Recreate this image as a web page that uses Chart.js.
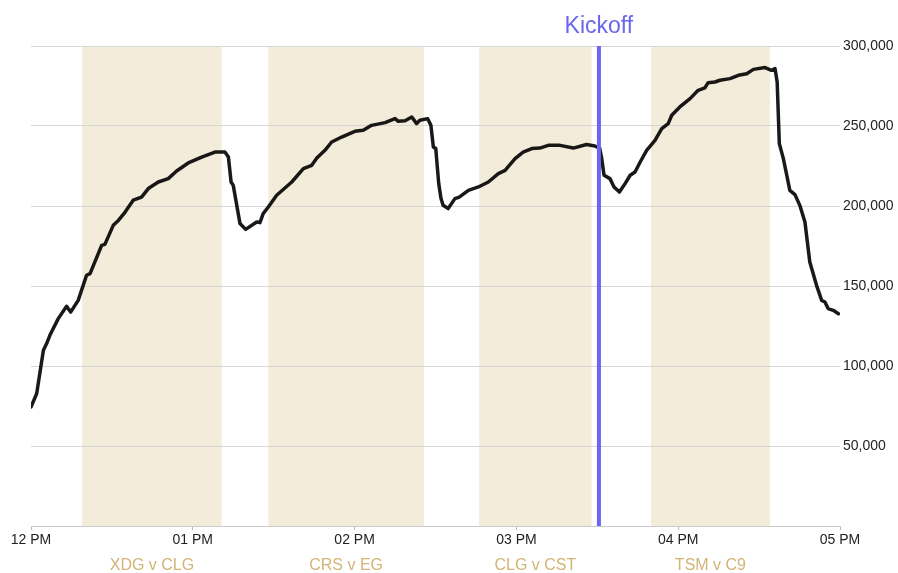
<!DOCTYPE html>
<html>
<head>
<meta charset="utf-8">
<script src="https://cdn.jsdelivr.net/npm/chart.js@4/dist/chart.umd.min.js"></script>
<style>
  html, body { margin: 0; padding: 0; background: #fff; }
  canvas { display: block; }
</style>
</head>
<body>
<canvas id="viewersChart" width="898" height="573"></canvas>
<script>
// --- Data ---
// minutes after 12 PM
const minutes = [0, 2.1, 4.6, 5.8, 7.0, 10.1, 13.2, 14.7, 17.5, 20.6, 21.9, 26.2, 27.4, 30.5, 32.4, 34.9, 37.9, 41.0, 43.5, 47.2,
  50.9, 54.0, 58.3, 63.3, 68.2, 71.9, 73.2, 74.2, 75.0, 77.5, 79.6, 83.7, 84.9, 86.1, 88.0, 91.1, 96.7, 101.0, 104.1, 106.0,
  109.0, 111.5, 115.2, 120.1, 123.2, 126.3, 131.3, 135.0, 136.2, 138.7, 141.2, 143.0, 144.2, 147.1, 148.3, 149.2, 150.1, 151.2,
  152.0, 152.8, 154.7, 157.2, 158.8, 162.2, 165.9, 169.6, 173.3, 175.8, 179.5, 182.5, 185.7, 188.7, 191.8, 196.2, 201.1, 206.0,
  209.1, 210.9, 211.6, 212.5, 214.7, 216.2, 218.2, 220.3, 222.2, 224.0, 225.9, 228.3, 231.4, 233.9, 236.3, 237.6, 240.6, 244.4,
  247.4, 249.9, 251.1, 253.6, 255.5, 259.2, 262.3, 265.4, 267.9, 272.2, 274.6, 275.9, 276.7, 277.5, 279.0, 281.4, 283.3, 285.1,
  287.0, 288.8, 291.3, 293.2, 294.4, 295.6, 297.5, 299.4];

const viewers = [74400, 82700, 109800, 114000, 119200, 129600, 137300, 133700, 141000, 156700, 157700, 175400, 176000, 187900,
  191000, 196200, 203600, 205600, 210900, 215000, 217100, 221900, 226900, 230600, 233700, 233700, 230600, 215000, 212900,
  189000, 185400, 190000, 189600, 195200, 199400, 206700, 215000, 223400, 225400, 230000, 234800, 240000, 243100, 246700,
  247300, 250400, 252100, 254600, 252900, 253300, 255600, 251500, 253600, 254600, 250400, 236900, 235900, 214000, 205000,
  200500, 198400, 204600, 205600, 209800, 211900, 215000, 220200, 222300, 229600, 233700, 235900, 236200, 237900, 237900,
  236200, 238400, 237500, 236000, 230000, 219200, 217100, 211900, 208700, 214000, 219200, 221200, 227500, 234800, 241000,
  248400, 251500, 256700, 261900, 267100, 272300, 273800, 277100, 277500, 278600, 279600, 281700, 282700, 285400, 286500,
  284800, 285900, 277500, 239000, 229600, 209800, 207100, 200400, 190000, 165000, 150400, 141000, 140000, 135900, 134800,
  132700];

const tickLabels = ["12 PM", "01 PM", "02 PM", "03 PM", "04 PM", "05 PM"];

const matchLabels = ["XDG v CLG", "CRS v EG", "CLG v CST", "TSM v C9"];
const matchStart = [19.0, 88.0, 166.2, 229.9];
const matchEnd = [70.7, 145.7, 207.9, 274.0];

const kickoffLabel = "Kickoff";
const kickoffMinute = 210.6;

// --- Plugins ---
const matchBands = {
  id: 'matchBands',
  beforeDraw(chart) {
    const { ctx, chartArea, scales } = chart;
    ctx.save();
    ctx.fillStyle = '#f4ecdb';
    matchStart.forEach((s, i) => {
      const x1 = scales.x.getPixelForValue(s);
      const x2 = scales.x.getPixelForValue(matchEnd[i]);
      ctx.fillRect(x1, chartArea.top, x2 - x1, chartArea.bottom - chartArea.top);
    });
    ctx.fillStyle = '#d2b475';
    ctx.font = '16px "Liberation Sans", Arial, sans-serif';
    ctx.textAlign = 'center';
    ctx.textBaseline = 'middle';
    matchLabels.forEach((label, i) => {
      const mid = scales.x.getPixelForValue((matchStart[i] + matchEnd[i]) / 2);
      ctx.fillText(label, mid, 566);
    });
    ctx.restore();
  }
};

const kickoffLine = {
  id: 'kickoffLine',
  afterDatasetsDraw(chart) {
    const { ctx, chartArea, scales } = chart;
    const x = scales.x.getPixelForValue(kickoffMinute);
    ctx.save();
    ctx.strokeStyle = '#6a66ee';
    ctx.lineWidth = 4;
    ctx.beginPath();
    ctx.moveTo(x, chartArea.top);
    ctx.lineTo(x, chartArea.bottom);
    ctx.stroke();
    ctx.fillStyle = '#6a66ee';
    ctx.font = '23px "Liberation Sans", Arial, sans-serif';
    ctx.textAlign = 'center';
    ctx.textBaseline = 'middle';
    ctx.fillText(kickoffLabel, x, 27);
    ctx.restore();
  }
};

// --- Chart ---
function initChart() {
  const ctx = document.getElementById('viewersChart').getContext('2d');
  new Chart(ctx, {
    type: 'line',
    data: {
      datasets: [{
        data: minutes.map((m, i) => ({ x: m, y: viewers[i] })),
        borderColor: 'rgba(0,0,0,0.9)',
        borderWidth: 3.5,
        borderJoinStyle: 'round',
        borderCapStyle: 'round',
        pointRadius: 0,
        tension: 0,
        fill: false
      }]
    },
    options: {
      responsive: false,
      animation: false,
      layout: { padding: { top: 46, left: 31, right: 0, bottom: 0 } },
      plugins: { legend: { display: false }, tooltip: { enabled: false } },
      scales: {
        x: {
          type: 'linear',
          min: 0,
          max: 300,
          afterFit: (scale) => { scale.height = 47; },
          grid: { drawOnChartArea: false, drawTicks: true, tickLength: 4, color: '#bbb' },
          border: { display: true, color: '#ccc' },
          ticks: {
            stepSize: 60,
            padding: 2,
            maxRotation: 0,
            color: '#222',
            font: { family: '"Liberation Sans", Arial, sans-serif', size: 14 },
            callback: (v) => tickLabels[Math.round(v / 60)]
          }
        },
        y: {
          position: 'right',
          min: 0,
          max: 300000,
          afterFit: (scale) => { scale.width = 58; },
          grid: { drawTicks: false, color: '#d6d6d6' },
          border: { display: false },
          ticks: {
            stepSize: 50000,
            padding: 3,
            color: '#222',
            font: { family: '"Liberation Sans", Arial, sans-serif', size: 14 },
            callback: (v) => v === 0 ? '' : v.toLocaleString('en-US')
          }
        }
      }
    },
    plugins: [matchBands, kickoffLine]
  });
}

document.addEventListener('DOMContentLoaded', initChart);
</script>
</body>
</html>
